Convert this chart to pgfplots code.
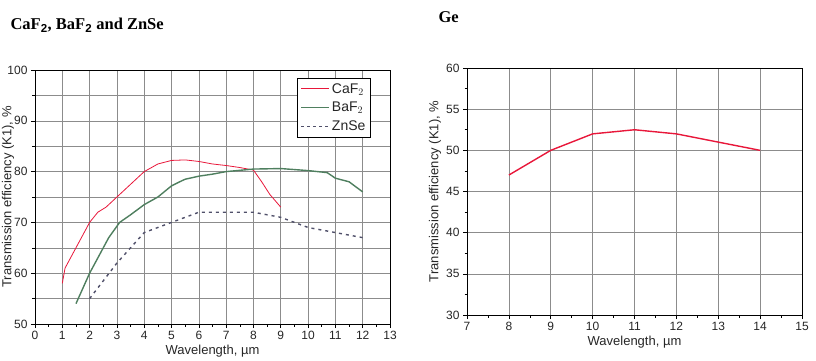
\documentclass[border=0pt]{standalone}
\usepackage{fontspec}
\setmainfont{Liberation Sans}
\newfontfamily\titlefont{Liberation Serif}
\usepackage{pgfplots}
\pgfplotsset{compat=1.18}
\definecolor{caf}{HTML}{E8173A}
\definecolor{baf}{HTML}{4F7F5F}
\definecolor{zns}{HTML}{50506A}
\definecolor{gridc}{HTML}{8C8C8C}
\begin{document}
\begin{tikzpicture}
\useasboundingbox (0pt,0pt) rectangle (816pt,360pt);
\pgfplotsset{
  myax/.style={
    scale only axis,
    axis line style={black, line width=0.8pt},
    grid=both,
    major grid style={gridc, line width=0.6pt},
    minor grid style={gridc, line width=0.6pt},
    tick style={black, line width=0.6pt},
    tick align=outside,
    major tick length=4pt,
    minor tick length=2.5pt,
    /pgf/number format/assume math mode=true,
    ticklabel style={font=\fontsize{12}{13}\selectfont, text=black!85},
    xlabel={Wavelength, µm},
    ylabel={Transmission efficiency (K1), \%},
    xtick pos=bottom, ytick pos=left,
    every axis x label/.style={at={(axis description cs:0.5,0)}, anchor=center, yshift=-27pt,
      font=\fontsize{13}{14}\selectfont, text=black!85},
  }
}
\node[anchor=west, font=\titlefont\bfseries\fontsize{16.5}{18}\selectfont] at (7pt,335pt) {CaF$_\mathbf{2}$, BaF$_\mathbf{2}$ and ZnSe};
\node[anchor=west, font=\titlefont\bfseries\fontsize{16.5}{18}\selectfont] at (435pt,343pt) {Ge};
\begin{axis}[myax, at={(35pt,36pt)}, anchor=south west, width=355pt, height=254pt,
  xmin=0, xmax=13, ymin=50, ymax=100,
  xtick={0,1,...,13}, minor xtick={0.5,1.5,...,12.5},
  ytick={50,60,...,100}, minor ytick={55,65,...,95},
  minor x grid style={draw=none},
  every axis y label/.style={at={(axis description cs:0,0.5)}, xshift=-27pt, rotate=90, anchor=center,
    font=\fontsize{13}{14}\selectfont, text=black!85},
  legend style={at={(0.946,0.969)}, anchor=north east, draw=black, line width=0.8pt,
    font=\fontsize{14}{15}\selectfont, text=black!85, row sep=3.5pt, inner sep=3pt},
  legend cell align=left,
]
\addplot[draw=caf, line width=0.8pt,
  legend image code/.code={\draw[draw=caf, line width=1pt] (0pt,0pt) -- (28pt,0pt);}] coordinates {
(1,58) (1.1,61) (1.2,62) (1.5,65) (1.7,67) (2,70) (2.3,72) (2.6,73) (3,75) (3.5,77.5) (4,80) (4.5,81.5) (5,82.2) (5.5,82.3) (6,82) (6.5,81.5) (7,81.2) (7.5,80.8) (8,80.3) (8.3,78) (8.6,75.5) (9,73)};
\addlegendentry{CaF$_2$}
\addplot[draw=baf, line width=1.4pt,
  legend image code/.code={\draw[draw=baf, line width=1.6pt] (0pt,0pt) -- (28pt,0pt);}] coordinates {
(1.5,54) (1.75,57) (2,60) (2.4,64) (2.7,67) (3.1,70) (3.5,71.5) (4,73.5) (4.5,75) (5,77.2) (5.3,78) (5.5,78.5) (6,79.1) (6.5,79.5) (7,80) (8,80.5) (9,80.6) (10,80.2) (10.7,79.8) (11,78.7) (11.5,78) (12,76)};
\addlegendentry{BaF$_2$}
\addplot[draw=zns, line width=1.4pt, dash pattern=on 3pt off 4pt,
  legend image code/.code={\draw[draw=zns, line width=1.6pt, dash pattern=on 3pt off 3pt] (0pt,0pt) -- (28pt,0pt);}] coordinates {
(2,55) (2.5,58.5) (3,62) (3.5,65) (4,68) (5,70) (6,72) (7,72) (8,72) (9,71) (10,69) (11,68) (12,67)};
\addlegendentry{ZnSe}
\end{axis}
\begin{axis}[myax, at={(467pt,45pt)}, anchor=south west, width=335pt, height=247pt,
  xmin=7, xmax=15, ymin=30, ymax=60,
  xtick={7,8,...,15}, minor xtick={7.5,8.5,...,14.5},
  ytick={30,35,...,60}, minor ytick={32.5,37.5,...,57.5},
  minor grid style={draw=none},
  every axis y label/.style={at={(axis description cs:0,0.5)}, xshift=-32pt, rotate=90, anchor=center,
    font=\fontsize{13}{14}\selectfont, text=black!85},
]
\addplot[draw=caf, line width=1.4pt] coordinates {
(8,47) (9,50) (10,52) (11,52.5) (12,52) (13,51) (14,50)};
\end{axis}
\end{tikzpicture}
\end{document}
